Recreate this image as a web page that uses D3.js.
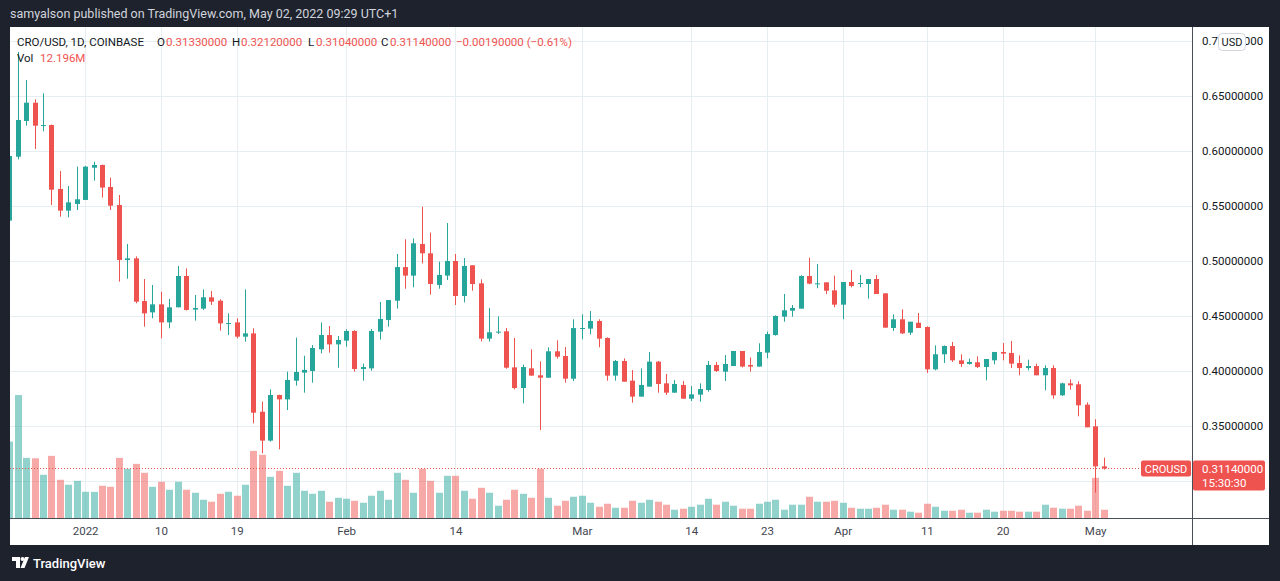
<!DOCTYPE html>
<html>
<head>
<meta charset="utf-8">
<script src="https://cdn.jsdelivr.net/npm/d3@7"></script>
<style>
  html, body { margin: 0; padding: 0; background: #1e222d; }
  svg { display: block; font-family: Roboto, "DejaVu Sans", sans-serif; }
</style>
</head>
<body>
<svg id="chart" width="1280" height="581"></svg>
<script>
// daily candles, CRO/USD on Coinbase, 23 Dec 2021 -> 2 May 2022
const firstDay = "2021-12-23";
const lastDay = "2022-05-02";

const opens = [
  0.5367, 0.5948, 0.6273, 0.6439, 0.6230, 0.6236, 0.5655, 0.5458, 0.5518,
  0.5555, 0.5848, 0.5873, 0.5673, 0.5509, 0.5009, 0.5024, 0.4636, 0.4533, 0.4606,
  0.4442, 0.4579, 0.4864, 0.4558, 0.4567, 0.4670, 0.4639, 0.4433, 0.4442, 0.4312,
  0.4342, 0.3630, 0.3367, 0.3782, 0.3742, 0.3912, 0.3985, 0.4000, 0.4197, 0.4327,
  0.4242, 0.4276, 0.4364, 0.4018, 0.4024, 0.4358, 0.4464, 0.4639, 0.4945, 0.4867,
  0.5155, 0.5070, 0.4782, 0.4867, 0.5000, 0.4682, 0.4961, 0.4797, 0.4294, 0.4349,
  0.4361, 0.4033, 0.3845, 0.4024, 0.3961, 0.3939, 0.4179, 0.4136, 0.3930, 0.4385,
  0.4385, 0.4455, 0.4300, 0.3958, 0.4091, 0.3912, 0.3767, 0.3858, 0.4085, 0.3888,
  0.3803, 0.3873, 0.3748, 0.3785, 0.3827, 0.4055, 0.3994, 0.4045, 0.4182, 0.4055,
  0.4040, 0.4167, 0.4327, 0.4494, 0.4548, 0.4567, 0.4864, 0.4794, 0.4806, 0.4733,
  0.4603, 0.4809, 0.4794, 0.4791, 0.4836, 0.4706, 0.4391, 0.4470, 0.4348, 0.4439,
  0.4400, 0.4015, 0.4152, 0.4227, 0.4097, 0.4064, 0.4079, 0.4036, 0.4097, 0.4173,
  0.4164, 0.4073, 0.4027, 0.4045, 0.3961, 0.4027, 0.3779, 0.3888, 0.3879, 0.3694,
  0.3497, 0.3133
];
const highs = [
  0.5990, 0.6900, 0.6645, 0.6470, 0.6524, 0.6240, 0.5818, 0.5682, 0.5858,
  0.5864, 0.5903, 0.5876, 0.5758, 0.5600, 0.5155, 0.5042, 0.4836, 0.4782, 0.4721,
  0.4655, 0.4955, 0.4933, 0.4691, 0.4742, 0.4727, 0.4652, 0.4524, 0.4479, 0.4742,
  0.4388, 0.3721, 0.3833, 0.3785, 0.3994, 0.4303, 0.4139, 0.4236, 0.4442, 0.4409,
  0.4318, 0.4379, 0.4370, 0.4067, 0.4382, 0.4627, 0.4645, 0.5064, 0.5197, 0.5206,
  0.5494, 0.5258, 0.4994, 0.5345, 0.5064, 0.5027, 0.4961, 0.4833, 0.4573, 0.4497,
  0.4391, 0.4300, 0.4058, 0.4197, 0.4088, 0.4215, 0.4279, 0.4218, 0.4470, 0.4515,
  0.4545, 0.4470, 0.4306, 0.4100, 0.4115, 0.4009, 0.4024, 0.4173, 0.4091, 0.3973,
  0.3918, 0.3909, 0.3864, 0.3888, 0.4091, 0.4082, 0.4145, 0.4182, 0.4182, 0.4124,
  0.4252, 0.4358, 0.4506, 0.4700, 0.4600, 0.4870, 0.5030, 0.4973, 0.4806, 0.4867,
  0.4809, 0.4918, 0.4873, 0.4836, 0.4873, 0.4706, 0.4515, 0.4561, 0.4448, 0.4527,
  0.4406, 0.4233, 0.4233, 0.4264, 0.4152, 0.4112, 0.4133, 0.4109, 0.4173, 0.4255,
  0.4273, 0.4142, 0.4103, 0.4067, 0.4052, 0.4052, 0.3894, 0.3924, 0.3906, 0.3715,
  0.3561, 0.3212
];
const lows = [
  0.5350, 0.5924, 0.6230, 0.6018, 0.6179, 0.5509, 0.5403, 0.5397, 0.5464,
  0.5555, 0.5730, 0.5576, 0.5464, 0.4812, 0.4839, 0.4615, 0.4403, 0.4479, 0.4297,
  0.4388, 0.4579, 0.4550, 0.4458, 0.4555, 0.4600, 0.4367, 0.4327, 0.4297, 0.4267,
  0.3524, 0.3252, 0.3358, 0.3288, 0.3645, 0.3867, 0.3803, 0.3894, 0.4161, 0.4167,
  0.4030, 0.4221, 0.3994, 0.3912, 0.4003, 0.4285, 0.4403, 0.4567, 0.4748, 0.4761,
  0.4979, 0.4694, 0.4748, 0.4827, 0.4600, 0.4624, 0.4730, 0.4267, 0.4267, 0.4336,
  0.4021, 0.3833, 0.3706, 0.3958, 0.3464, 0.3939, 0.4112, 0.3894, 0.3909, 0.4288,
  0.4333, 0.4215, 0.3912, 0.3912, 0.3903, 0.3712, 0.3767, 0.3858, 0.3803, 0.3782,
  0.3803, 0.3748, 0.3727, 0.3721, 0.3812, 0.3991, 0.3909, 0.4045, 0.4033, 0.3994,
  0.4040, 0.4115, 0.4321, 0.4448, 0.4494, 0.4567, 0.4788, 0.4752, 0.4700, 0.4579,
  0.4470, 0.4761, 0.4761, 0.4658, 0.4700, 0.4394, 0.4364, 0.4336, 0.4327, 0.4391,
  0.3982, 0.4006, 0.4073, 0.4082, 0.4036, 0.4058, 0.4027, 0.3915, 0.4061, 0.4097,
  0.4027, 0.3961, 0.4006, 0.3961, 0.3824, 0.3748, 0.3773, 0.3830, 0.3588, 0.3488,
  0.2894, 0.3104
];
const closes = [
  0.5955, 0.6282, 0.6439, 0.6230, 0.6236, 0.5648, 0.5458, 0.5533, 0.5561,
  0.5858, 0.5873, 0.5667, 0.5503, 0.5009, 0.5024, 0.4630, 0.4524, 0.4606, 0.4442,
  0.4579, 0.4864, 0.4555, 0.4573, 0.4670, 0.4630, 0.4433, 0.4436, 0.4312, 0.4342,
  0.3621, 0.3367, 0.3782, 0.3742, 0.3918, 0.3991, 0.4010, 0.4209, 0.4327, 0.4242,
  0.4282, 0.4364, 0.4018, 0.4036, 0.4364, 0.4473, 0.4645, 0.4945, 0.4867, 0.5161,
  0.5070, 0.4791, 0.4873, 0.5000, 0.4682, 0.4955, 0.4791, 0.4294, 0.4352, 0.4358,
  0.4030, 0.3845, 0.4036, 0.3958, 0.3939, 0.4179, 0.4130, 0.3930, 0.4390, 0.4391,
  0.4455, 0.4294, 0.3958, 0.4091, 0.3903, 0.3767, 0.3873, 0.4085, 0.3882, 0.3803,
  0.3882, 0.3748, 0.3788, 0.3836, 0.4055, 0.4000, 0.4064, 0.4182, 0.4040, 0.4040,
  0.4173, 0.4336, 0.4500, 0.4552, 0.4573, 0.4864, 0.4794, 0.4797, 0.4730, 0.4603,
  0.4809, 0.4773, 0.4800, 0.4836, 0.4700, 0.4394, 0.4470, 0.4342, 0.4448, 0.4391,
  0.4015, 0.4152, 0.4227, 0.4097, 0.4064, 0.4082, 0.4036, 0.4109, 0.4173, 0.4158,
  0.4067, 0.4027, 0.4045, 0.3961, 0.4027, 0.3779, 0.3888, 0.3870, 0.3688, 0.3488,
  0.3133, 0.3114
];
// volume, millions
const volumes = [
  112.7, 181.3, 88.6, 88.0, 63.7, 91.6, 56.3, 49.0, 54.8,
  38.7, 38.5, 47.5, 46.0, 88.6, 72.5, 79.8, 66.6, 46.0, 53.4,
  41.6, 53.4, 41.6, 37.2, 26.9, 24.0, 35.7, 38.7, 32.8, 49.0,
  98.9, 93.1, 60.7, 69.5, 47.5, 66.6, 40.1, 35.7, 40.1, 24.0,
  29.8, 28.4, 25.4, 22.5, 32.8, 40.1, 26.9, 66.6, 56.3, 37.2,
  72.5, 54.8, 37.2, 62.2, 62.2, 40.1, 28.4, 44.5, 37.2, 18.1,
  26.9, 41.6, 35.7, 29.8, 72.5, 29.8, 18.1, 25.4, 31.3, 32.8,
  22.5, 16.6, 21.0, 15.1, 15.1, 25.4, 22.5, 26.9, 24.0, 19.6,
  12.2, 13.7, 16.6, 19.6, 28.4, 19.6, 24.0, 18.1, 13.7, 13.7,
  21.0, 24.0, 26.9, 12.2, 19.6, 19.6, 31.3, 24.0, 24.0, 25.4,
  22.5, 15.1, 13.7, 13.7, 15.1, 19.6, 12.2, 12.2, 9.3, 7.8,
  21.0, 16.6, 10.7, 10.7, 12.2, 7.8, 7.8, 12.2, 9.3, 10.7,
  10.7, 9.3, 9.3, 9.3, 19.6, 15.1, 13.7, 13.7, 18.1, 10.7,
  59.2, 12.196
];

const priceGrid = [0.30, 0.35, 0.40, 0.45, 0.50, 0.55, 0.60, 0.65, 0.70];
const priceLabels = [0.35, 0.40, 0.45, 0.50, 0.55, 0.60, 0.65, 0.70];
const timeTicks = ["2022-01-01", "2022-01-10", "2022-01-19", "2022-02-01", "2022-02-14", "2022-03-01",
                   "2022-03-14", "2022-03-23", "2022-04-01", "2022-04-11", "2022-04-20", "2022-05-01"];
const timeLabels = ["2022", "10", "19", "Feb", "14", "Mar", "14", "23", "Apr", "11", "20", "May"];

const lastPrice = 0.3114;

const green = "#26a69a", red = "#ef5350";
const W = 1280, H = 581;
const panel = { x: 10, y: 27, r: 1269, b: 545 };
const plot = { l: 10, r: 1192, t: 27, b: 518 };

const parse = d3.utcParse("%Y-%m-%d");
const days = d3.utcDay.range(parse(firstDay), d3.utcDay.offset(parse(lastDay), 1));
const candles = days.map((d, i) => ({
  date: d, o: opens[i], h: highs[i], l: lows[i], c: closes[i], v: volumes[i]
}));

const x = d3.scaleUtc().domain([parse(firstDay), parse(lastDay)]).range([9.4, 1103.6]);
const y = d3.scaleLinear().domain([0.35, 0.70]).range([426, 41]);
const yVol = d3.scaleLinear().domain([0, d3.max(volumes)]).range([plot.b, plot.b - 123]);

const svg = d3.select("#chart");

// header line on the dark frame
svg.append("text")
  .attr("x", 10).attr("y", 18)
  .attr("fill", "#d1d4dc").style("font-size", "12.5px")
  .text("samyalson published on TradingView.com, May 02, 2022 09:29 UTC+1");

svg.append("rect")
  .attr("x", panel.x).attr("y", panel.y)
  .attr("width", panel.r - panel.x).attr("height", panel.b - panel.y)
  .attr("fill", "#ffffff");

svg.append("clipPath").attr("id", "plot-clip")
  .append("rect")
  .attr("x", plot.l).attr("y", plot.t)
  .attr("width", plot.r - plot.l).attr("height", plot.b - plot.t);

const grid = svg.append("g").attr("stroke", "#e6eef1").attr("stroke-width", 1);
grid.selectAll("line.h")
  .data(priceGrid)
  .join("line")
  .attr("class", "h")
  .attr("x1", plot.l).attr("x2", plot.r)
  .attr("y1", d => Math.round(y(d)) + 0.5).attr("y2", d => Math.round(y(d)) + 0.5);
grid.selectAll("line.v")
  .data(timeTicks)
  .join("line")
  .attr("class", "v")
  .attr("y1", plot.t).attr("y2", plot.b)
  .attr("x1", d => Math.round(x(parse(d))) + 0.5).attr("x2", d => Math.round(x(parse(d))) + 0.5);

const body = svg.append("g").attr("clip-path", "url(#plot-clip)");

// volume under the candles
body.append("g")
  .selectAll("rect")
  .data(candles)
  .join("rect")
  .attr("x", d => Math.round(x(d.date)) - 3)
  .attr("width", 7)
  .attr("y", d => yVol(d.v))
  .attr("height", d => plot.b - yVol(d.v))
  .attr("fill", d => d.c >= d.o ? green : red)
  .attr("fill-opacity", 0.5);

const candle = body.append("g")
  .selectAll("g")
  .data(candles)
  .join("g")
  .attr("fill", d => d.c >= d.o ? green : red)
  .attr("stroke", d => d.c >= d.o ? green : red);

candle.append("line")
  .attr("x1", d => Math.round(x(d.date)) + 0.5)
  .attr("x2", d => Math.round(x(d.date)) + 0.5)
  .attr("y1", d => y(d.h))
  .attr("y2", d => y(d.l))
  .attr("stroke-width", 1);

candle.append("rect")
  .attr("stroke", "none")
  .attr("x", d => Math.round(x(d.date)) - 2)
  .attr("width", 5)
  .attr("y", d => y(Math.max(d.o, d.c)))
  .attr("height", d => Math.max(1, Math.abs(y(d.o) - y(d.c))));

// last price line
const yLast = Math.round(y(lastPrice)) + 0.5;
svg.append("line")
  .attr("x1", plot.l).attr("x2", 1141)
  .attr("y1", yLast).attr("y2", yLast)
  .attr("stroke", red).attr("stroke-dasharray", "1,2");

// legend
const legend = svg.append("text")
  .attr("y", 46).style("font-size", "11.5px").attr("fill", "#131722");
const legendParts = [
  ["CRO/USD, 1D, COINBASE", 17, "#131722"],
  ["O", 157, "#131722"], ["0.31330000", 166, red],
  ["H", 232, "#131722"], ["0.32120000", 241, red],
  ["L", 308, "#131722"], ["0.31040000", 316, red],
  ["C", 381, "#131722"], ["0.31140000", 390, red],
  ["\u22120.00190000 (\u22120.61%)", 456, red]
];
legend.selectAll("tspan")
  .data(legendParts)
  .join("tspan")
  .attr("x", d => d[1])
  .attr("fill", d => d[2])
  .text(d => d[0]);

const volLegend = svg.append("text").attr("y", 62).style("font-size", "11.5px");
volLegend.append("tspan").attr("x", 17).attr("fill", "#131722").text("Vol");
volLegend.append("tspan").attr("x", 40).attr("fill", red).text("12.196M");

// price axis
const yAxis = svg.append("g")
  .attr("transform", `translate(${plot.r},0)`)
  .call(d3.axisRight(y).tickValues(priceLabels).tickSize(0).tickPadding(10).tickFormat(d3.format(".8f")));
yAxis.select(".domain").remove();
yAxis.selectAll("text")
  .attr("fill", "#131722")
  .style("font-size", "11.5px")
  .style("font-family", "Roboto, sans-serif");

// time axis
const labelByTick = new Map(timeTicks.map((t, i) => [t, timeLabels[i]]));
const xAxis = svg.append("g")
  .attr("transform", `translate(0,${plot.b})`)
  .call(d3.axisBottom(x)
    .tickValues(timeTicks.map(parse))
    .tickSize(0).tickPadding(9)
    .tickFormat(d => labelByTick.get(d3.utcFormat("%Y-%m-%d")(d))));
xAxis.select(".domain").remove();
xAxis.selectAll("text")
  .attr("fill", "#434651")
  .style("font-size", "11.5px")
  .style("font-family", "Roboto, sans-serif");

// pane separators
svg.append("line")
  .attr("x1", plot.r + 0.5).attr("x2", plot.r + 0.5)
  .attr("y1", panel.y).attr("y2", panel.b)
  .attr("stroke", "#4a4e59");
svg.append("line")
  .attr("x1", panel.x).attr("x2", panel.r)
  .attr("y1", plot.b + 0.5).attr("y2", plot.b + 0.5)
  .attr("stroke", "#4a4e59");

// USD badge
svg.append("rect")
  .attr("x", 1218.5).attr("y", 33.5).attr("width", 27).attr("height", 17).attr("rx", 4)
  .attr("fill", "#fff").attr("stroke", "#d1d4dc");
svg.append("text")
  .attr("x", 1232).attr("y", 46).attr("text-anchor", "middle")
  .attr("fill", "#131722").style("font-size", "11px").text("USD");

// last price labels
svg.append("rect")
  .attr("x", 1141).attr("y", yLast - 8).attr("width", 50).attr("height", 16).attr("rx", 2)
  .attr("fill", red);
svg.append("text")
  .attr("x", 1166).attr("y", yLast + 4).attr("text-anchor", "middle")
  .attr("fill", "#fff").style("font-size", "11px").text("CROUSD");
svg.append("rect")
  .attr("x", plot.r + 1).attr("y", yLast - 8).attr("width", 72).attr("height", 30).attr("rx", 2)
  .attr("fill", red);
svg.append("text")
  .attr("x", 1202).attr("y", yLast + 4)
  .attr("fill", "#fff").style("font-size", "11.5px").text(d3.format(".8f")(lastPrice));
svg.append("text")
  .attr("x", 1202).attr("y", yLast + 18)
  .attr("fill", "#fff").style("font-size", "11.5px").text("15:30:30");

// footer logo
const logo = svg.append("g").attr("fill", "#ffffff");
logo.append("path").attr("d", "M12,557 h8 v11 h-4 v-7 h-4 z");
logo.append("circle").attr("cx", 22.5).attr("cy", 559).attr("r", 2);
logo.append("path").attr("d", "M25,557 h4 l-4.5,11 h-4 z");
svg.append("text")
  .attr("x", 33).attr("y", 568)
  .attr("fill", "#ffffff").style("font-size", "13px").style("font-weight", "500")
  .text("TradingView");
</script>
</body>
</html>
